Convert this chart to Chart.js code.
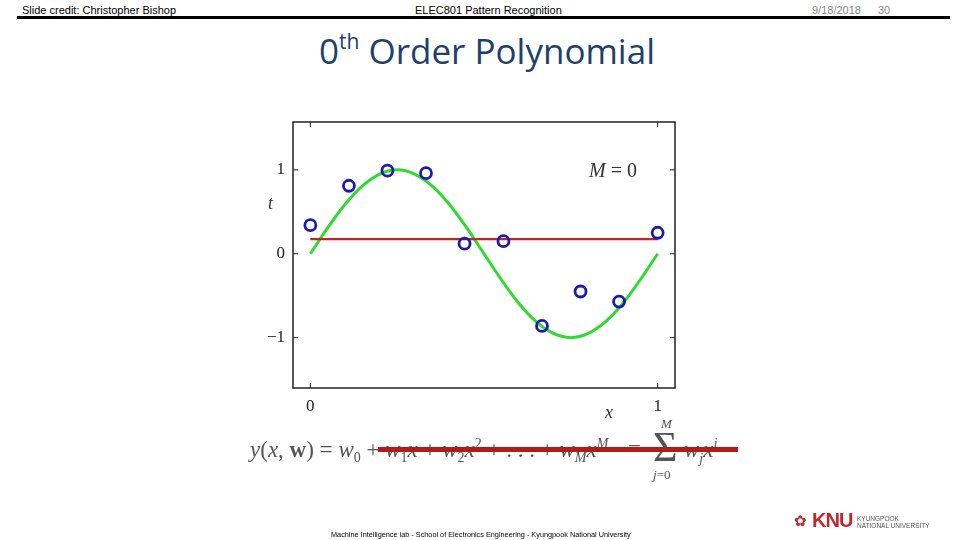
<!DOCTYPE html>
<html>
<head>
<meta charset="utf-8">
<script src="https://cdn.jsdelivr.net/npm/chart.js@4/dist/chart.umd.min.js"></script>
<style>
  html, body { margin:0; padding:0; background:#fff; }
  #slide { position:relative; width:960px; height:540px; overflow:hidden; background:#fff; }
  #c { position:absolute; left:0; top:0; }
  .abs { position:absolute; white-space:nowrap; }
  .hdr { font-family:'Liberation Sans Narrow','Liberation Sans',sans-serif; font-size:11px; color:#000; top:4px; }
  .serif { font-family:'Liberation Serif','DejaVu Serif',serif; color:#333; }
  .f { color:#555; }
  .f sub, .f sup { font-size:14px; }
</style>
</head>
<body>
<div id="slide">
  <div class="abs hdr" style="left:22px;">Slide credit: Christopher Bishop</div>
  <div class="abs hdr" style="left:415px;">ELEC801 Pattern Recognition</div>
  <div class="abs hdr" style="left:812px;color:#888;">9/18/2018</div>
  <div class="abs hdr" style="left:878px;color:#888;">30</div>
  <div class="abs" style="left:17px;top:16px;width:933px;height:3px;background:#000;"></div>

  <div class="abs" style="left:319px;top:27px;font-family:'Open Sans','Liberation Sans',sans-serif;font-size:35px;color:#1F3F6E;">0<sup style="font-size:21px;position:relative;top:-2px;">th</sup> Order Polynomial</div>

  <canvas id="c" width="960" height="540"></canvas>

  <div class="abs serif" style="left:268px;top:193px;font-size:18px;font-style:italic;">t</div>
  <div class="abs serif" style="left:605px;top:402px;font-size:18px;font-style:italic;">x</div>
  <div class="abs serif" style="left:589px;top:159px;font-size:20px;"><i>M</i>&nbsp;=&nbsp;0</div>

  <div class="abs serif f" style="left:250px;top:436px;font-size:23px;"><i>y</i>(<i>x</i>, <b>w</b>) = <i>w</i><sub>0</sub> + <i>w</i><sub>1</sub><i>x</i> + <i>w</i><sub>2</sub><i>x</i><sup>2</sup> + . . . + <i>w</i><sub><i>M</i></sub><i>x</i><sup><i>M</i></sup></div>
  <div class="abs serif f" style="left:628px;top:436px;font-size:23px;">=</div>
  <div class="abs serif f" style="left:661px;top:416px;font-size:13px;"><i>M</i></div>
  <div class="abs serif f" style="left:653px;top:423px;font-size:42px;line-height:48px;">&Sigma;</div>
  <div class="abs serif f" style="left:684px;top:436px;font-size:23px;"><i>w<sub>j</sub>x<sup>j</sup></i></div>
  <div class="abs serif f" style="left:653px;top:467px;font-size:13px;"><i>j</i>=0</div>
  <div class="abs" style="left:378px;top:447px;width:360px;height:5px;background:#B01C1C;"></div>

  <div class="abs" style="left:331px;top:530px;font-family:'Liberation Sans Narrow','Liberation Sans',sans-serif;font-size:7.3px;color:#000;">Machine Intelligence lab - School of Electronics Engineering - Kyungpook National University</div>
  <div class="abs" style="left:794px;top:512px;font-size:15px;color:#C0282E;">&#10047;</div>
  <div class="abs" style="left:812px;top:509px;font-family:'Liberation Sans',sans-serif;font-weight:bold;font-size:20px;color:#C0282E;letter-spacing:-1px;">KNU</div>
  <div class="abs" style="left:857px;top:515px;font-family:'Liberation Sans Narrow','Liberation Sans',sans-serif;font-size:6.5px;color:#555;line-height:7px;">KYUNGPOOK<br>NATIONAL UNIVERSITY</div>
</div>
<script>
// Data
const pointX = [0, 0.111, 0.222, 0.333, 0.444, 0.556, 0.667, 0.778, 0.889, 1];
const pointT = [0.34, 0.81, 0.99, 0.96, 0.12, 0.15, -0.86, -0.45, -0.57, 0.25];
const curveX = [0, 0.05, 0.10, 0.15, 0.20, 0.25, 0.30, 0.35, 0.40, 0.45, 0.50, 0.55, 0.60, 0.65, 0.70, 0.75, 0.80, 0.85, 0.90, 0.95, 1];
const curveY = [0, 0.31, 0.59, 0.81, 0.95, 1.0, 0.95, 0.81, 0.59, 0.31, 0, -0.31, -0.59, -0.81, -0.95, -1.0, -0.95, -0.81, -0.59, -0.31, 0];
const fitX = [0, 1];
const fitY = [0.175, 0.175];
const xTicks = [0, 1];
const yTicks = [-1, 0, 1];

const frame = { left: 293, right: 675, top: 122, bottom: 388 };
const Y_W = 40, X_H = 30;

const tickMarks = {
  id: 'tickMarks',
  afterDraw(chart) {
    const ctx = chart.ctx, a = chart.chartArea;
    const xs = chart.scales.x, ys = chart.scales.y;
    ctx.save();
    ctx.strokeStyle = '#222';
    ctx.lineWidth = 1.5;
    ctx.strokeRect(a.left, a.top, a.right - a.left, a.bottom - a.top);
    ctx.lineWidth = 1;
    const L = 5;
    xTicks.forEach(v => {
      const px = xs.getPixelForValue(v);
      ctx.beginPath();
      ctx.moveTo(px, a.bottom); ctx.lineTo(px, a.bottom - L);
      ctx.moveTo(px, a.top); ctx.lineTo(px, a.top + L);
      ctx.stroke();
    });
    yTicks.forEach(v => {
      const py = ys.getPixelForValue(v);
      ctx.beginPath();
      ctx.moveTo(a.left, py); ctx.lineTo(a.left + L, py);
      ctx.moveTo(a.right, py); ctx.lineTo(a.right - L, py);
      ctx.stroke();
    });
    ctx.restore();
  }
};

new Chart(document.getElementById('c'), {
  type: 'line',
  data: {
    datasets: [
      {
        label: 'fit',
        data: fitX.map((x, i) => ({ x, y: fitY[i] })),
        borderColor: '#D02020', borderWidth: 2.2, pointRadius: 0, order: 2
      },
      {
        label: 'sin',
        data: curveX.map((x, i) => ({ x, y: curveY[i] })),
        borderColor: '#2EDB2E', borderWidth: 3, pointRadius: 0,
        cubicInterpolationMode: 'monotone', order: 3
      },
      {
        label: 'data',
        data: pointX.map((x, i) => ({ x, y: pointT[i] })),
        showLine: false, pointRadius: 5.5, pointBorderWidth: 2.8,
        pointBorderColor: '#1A1AB0', pointBackgroundColor: 'rgba(255,255,255,0)', order: 1
      }
    ]
  },
  options: {
    responsive: false, animation: false,
    layout: { padding: { left: frame.left - Y_W, right: 960 - frame.right, top: frame.top, bottom: 540 - frame.bottom - X_H } },
    plugins: { legend: { display: false }, tooltip: { enabled: false } },
    scales: {
      x: {
        type: 'linear', min: -0.05, max: 1.05,
        afterFit(s) { s.height = X_H; },
        afterBuildTicks(s) { s.ticks = xTicks.map(v => ({ value: v })); },
        grid: { display: false, drawTicks: false },
        border: { display: false },
        ticks: { padding: 8, color: '#222', font: { family: "'Liberation Serif', serif", size: 17 } }
      },
      y: {
        type: 'linear', min: -1.6, max: 1.57,
        afterFit(s) { s.width = Y_W; },
        afterBuildTicks(s) { s.ticks = yTicks.map(v => ({ value: v })); },
        grid: { display: false, drawTicks: false },
        border: { display: false },
        ticks: { padding: 8, color: '#222', font: { family: "'Liberation Serif', serif", size: 17 },
                 callback: v => (v < 0 ? '\u2212' + Math.abs(v) : String(v)) }
      }
    }
  },
  plugins: [tickMarks]
});
</script>
</body>
</html>
